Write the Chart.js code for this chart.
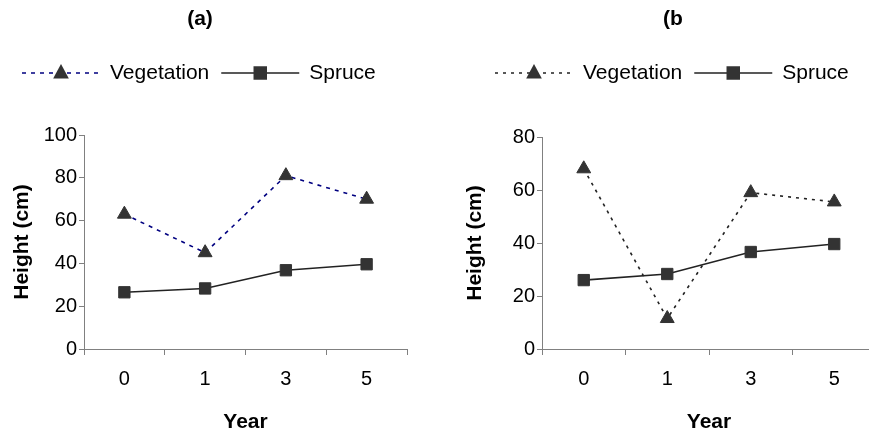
<!DOCTYPE html>
<html lang="en">
<head>
<meta charset="UTF-8">
<title>Height by year</title>
<script src="https://cdn.jsdelivr.net/npm/chart.js"></script>
<style>
    body { margin: 0; background: #fff; overflow: hidden; }
    .wrap { display: flex; width: 869px; height: 435px; overflow: hidden; }
    .right { width: 434px; height: 435px; overflow: hidden; flex: none; }
    canvas { display: block; flex: none; }
</style>
</head>
<body>
<div class="wrap">
    <canvas id="chartA" width="435" height="435"></canvas>
    <!-- panel b runs past the right edge in the original, so its canvas is cut off -->
    <div class="right"><canvas id="chartB" width="444" height="435"></canvas></div>
</div>
<script>
    // data
    const years = ["0", "1", "3", "5"];
    const vegetationA = [63, 45, 81, 70];
    const spruceA = [26.5, 28.3, 36.8, 39.6];
    const vegetationB = [68, 11.5, 59, 55.5];
    const spruceB = [26, 28.3, 36.6, 39.6];

    const FONT = "Arial, 'Liberation Sans', sans-serif";
    Chart.defaults.font.family = FONT;
    Chart.defaults.color = '#000';

    function drawMarker(ctx, style, x, y, r) {
        ctx.fillStyle = '#333';
        ctx.beginPath();
        if (style === 'triangle') {
            const h = r * 1.5;
            ctx.moveTo(x, y - h * 0.66);
            ctx.lineTo(x + r * 0.87, y + h * 0.34 + 1);
            ctx.lineTo(x - r * 0.87, y + h * 0.34 + 1);
        } else {
            const s = r * 0.75;
            ctx.rect(x - s, y - s, 2 * s, 2 * s);
        }
        ctx.closePath();
        ctx.fill();
    }

    // panel letter and legend row above the plot
    const headerPlugin = {
        id: 'header',
        afterDraw(chart, args, opts) {
            const ctx = chart.ctx;
            ctx.save();
            ctx.fillStyle = '#000';
            ctx.font = 'bold 21px ' + FONT;
            ctx.textAlign = 'center';
            ctx.textBaseline = 'middle';
            ctx.fillText(opts.title, opts.titleX, 19);

            let x = opts.legendX;
            const y = 73;
            ctx.font = '21px ' + FONT;
            ctx.textAlign = 'left';
            chart.data.datasets.forEach(ds => {
                ctx.strokeStyle = ds.borderColor;
                ctx.lineWidth = ds.borderWidth;
                ctx.setLineDash(ds.borderDash || []);
                ctx.beginPath();
                ctx.moveTo(x, y);
                ctx.lineTo(x + 78, y);
                ctx.stroke();
                ctx.setLineDash([]);
                drawMarker(ctx, ds.pointStyle, x + 39, y, 9);
                x += 78 + 10;
                ctx.fillStyle = '#000';
                ctx.fillText(ds.label, x, y);
                x += ctx.measureText(ds.label).width + 12;
            });
            ctx.restore();
        }
    };

    function makeChart(id, veg, spruce, vegColor, vegDash, yMax, yWidth, yTitlePad, padRight, title, titleX, legendX, padTop) {
        return new Chart(document.getElementById(id), {
            type: 'line',
            data: {
                labels: years,
                datasets: [{
                    label: 'Vegetation',
                    data: veg,
                    borderColor: vegColor,
                    borderWidth: 1.6,
                    borderDash: vegDash,
                    pointStyle: 'triangle',
                    pointRadius: 8,
                    pointBackgroundColor: '#333',
                    pointBorderColor: '#333',
                    pointBorderWidth: 1
                }, {
                    label: 'Spruce',
                    data: spruce,
                    borderColor: '#222',
                    borderWidth: 1.6,
                    pointStyle: 'rect',
                    pointRadius: 8,
                    pointBackgroundColor: '#333',
                    pointBorderColor: '#333',
                    pointBorderWidth: 1
                }]
            },
            options: {
                responsive: false,
                animation: false,
                layout: { autoPadding: false, padding: { top: padTop, right: padRight, left: 0, bottom: 0 } },
                plugins: {
                    legend: { display: false },
                    tooltip: { enabled: false },
                    header: { title: title, titleX: titleX, legendX: legendX }
                },
                scales: {
                    x: {
                        offset: true,
                        grid: { offset: true, drawOnChartArea: false, tickLength: 6, color: '#808080' },
                        border: { color: '#808080' },
                        ticks: { font: { size: 20 }, padding: 12 },
                        title: { display: true, text: 'Year', font: { size: 21, weight: 'bold' }, padding: 0 },
                        afterFit(s) {
                            s.height = 86;
                            s.paddingLeft = 0;
                            s.paddingRight = 0;
                        }
                    },
                    y: {
                        min: 0,
                        max: yMax,
                        ticks: { stepSize: 20, font: { size: 20 }, padding: 2 },
                        grid: { drawOnChartArea: false, tickLength: 5, color: '#808080' },
                        border: { color: '#808080' },
                        title: { display: true, text: 'Height (cm)', font: { size: 21, weight: 'bold' }, padding: { top: yTitlePad, bottom: 0 } },
                        afterFit(s) { s.width = yWidth; }
                    }
                }
            },
            plugins: [headerPlugin]
        });
    }

    makeChart('chartA', vegetationA, spruceA, '#000080', [4, 5], 100, 84, 10, 28, '(a)', 200, 22, 135);
    makeChart('chartB', vegetationB, spruceB, '#222', [3, 5], 80, 107, 28, 3, '(b', 238, 60, 137);
</script>
</body>
</html>
